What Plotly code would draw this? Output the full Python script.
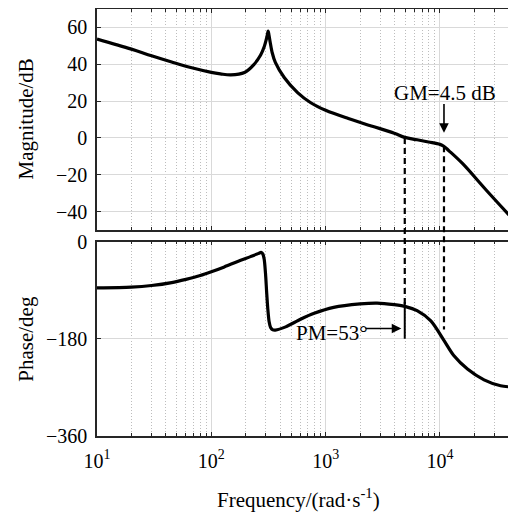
import numpy as np
import plotly.graph_objects as go

# ---- data ----
mag_freq = [10, 20, 30, 45, 66, 100, 120, 148, 195, 237, 270, 290, 302, 309, 314, 319, 326,
            340, 363, 434, 568, 741, 1000, 1580, 2510, 3980, 4920, 6310, 7940, 10000,
            10800, 12000, 15800, 25100, 47900]
mag_db = [53.7, 48.2, 44.6, 41.2, 38.2, 35.6, 34.8, 34.2, 35.5, 40.0, 45.0, 49.5, 53.3, 56.0,
          58.0, 56.0, 52.5, 46.5, 41.0, 32.8, 24.6, 19.1, 15.0, 10.5, 6.5, 2.6, 0.3, -1.0,
          -2.2, -3.5, -4.5, -7.0, -14.0, -28.0, -47.0]

ph_freq = [10, 20, 30, 45, 60, 80, 100, 130, 170, 220, 260, 272, 282, 290, 298, 305, 312,
           320, 330, 345, 363, 447, 603, 794, 1175, 2000, 2820, 3980, 5010, 6310, 8320,
           10900, 13200, 17400, 24300, 33900, 47900]
ph_deg = [-86, -84.5, -81.5, -76, -70, -63, -56, -47, -37, -28, -22, -20, -23, -33, -60, -95,
          -125, -148, -159, -163.5, -164, -158, -144, -133, -122, -115.5, -114, -117,
          -120.5, -128, -147, -184, -211, -236, -256, -267, -270]

mag_ticks = [-40, -20, 0, 20, 40, 60]
ph_ticks = [-360, -180, 0]
freq_ticks = [10, 100, 1000, 10000]
freq_ticktext = ["10<sup>1</sup>", "10<sup>2</sup>", "10<sup>3</sup>", "10<sup>4</sup>"]
gm_text = "GM=4.5 dB"
pm_text = "PM=53°"
w_gc = 4920     # gain crossover, rad/s
w_pc = 10840    # phase crossover, rad/s

# ---- layout geometry (page body adds an 8 px offset) ----
TOP_DOM = [0.4824, 1.0]
BOT_DOM = [0.0, 0.4555]
TOP_RNG = [-50, 70]
BOT_RNG = [-360, 0]
XR = [1, 4.665]
PL, PW = 97, 419      # plot-area left and width in window pixels
PB, PH = 436, 427     # plot-area bottom and height in window pixels


def to_paper(v, dom, rng):
    return dom[0] + (v - rng[0]) / (rng[1] - rng[0]) * (dom[1] - dom[0])


FONT = "Liberation Serif"
LINE = "#262626"

fig = go.Figure()
fig.add_trace(go.Scatter(x=mag_freq, y=mag_db, mode="lines", xaxis="x", yaxis="y",
                         line=dict(color="black", width=3.2, shape="spline", smoothing=1.0),
                         showlegend=False))
fig.add_trace(go.Scatter(x=ph_freq, y=ph_deg, mode="lines", xaxis="x2", yaxis="y2",
                         line=dict(color="black", width=3.2, shape="spline", smoothing=0.8),
                         showlegend=False))

axis_common = dict(
    type="log", range=XR, automargin=False,
    showline=True, linecolor=LINE, linewidth=1.6, mirror="ticks",
    ticks="inside", ticklen=4, tickcolor=LINE,
    showgrid=True, gridcolor="#d9d9d9", gridwidth=1,
    minor=dict(dtick="D1", ticks="inside", ticklen=3, tickcolor=LINE,
               showgrid=True, gridcolor="#bdbdbd", griddash="1px,2px", gridwidth=1),
    tickfont=dict(family=FONT, size=20, color="black"),
    zeroline=False,
)
yaxis_common = dict(
    automargin=False, showline=True, linecolor=LINE, linewidth=1.6, ticks="inside",
    ticklen=4, tickcolor=LINE, showgrid=True, gridcolor="#d9d9d9", zeroline=False,
    ticklabelstandoff=4, tickfont=dict(family=FONT, size=20, color="black"),
)

fig.update_layout(
    template="none",
    width=508, height=506,
    margin=dict(l=89, r=0, t=1, b=78),
    paper_bgcolor="white", plot_bgcolor="white",
    font=dict(family=FONT, size=20, color="black"),
    xaxis=dict(axis_common, anchor="y", matches="x2", tickvals=freq_ticks,
               showticklabels=False),
    xaxis2=dict(axis_common, anchor="y2", tickvals=freq_ticks, ticktext=freq_ticktext,
                ticklabelstandoff=6),
    yaxis=dict(yaxis_common, domain=TOP_DOM, range=TOP_RNG, tickvals=mag_ticks, anchor="x"),
    yaxis2=dict(yaxis_common, domain=BOT_DOM, range=BOT_RNG, tickvals=ph_ticks, anchor="x2"),
)

# dashed crossover lines spanning both panels
fig.add_shape(type="line", xref="x2", yref="paper", x0=w_gc, x1=w_gc,
              y0=to_paper(0, TOP_DOM, TOP_RNG), y1=to_paper(-118, BOT_DOM, BOT_RNG),
              line=dict(color="black", width=2.2, dash="6px,4px"))
fig.add_shape(type="line", xref="x2", yref="paper", x0=w_pc, x1=w_pc,
              y0=to_paper(-4.5, TOP_DOM, TOP_RNG), y1=to_paper(-163, BOT_DOM, BOT_RNG),
              line=dict(color="black", width=2.2, dash="6px,4px"))
# solid PM marker
fig.add_shape(type="line", xref="x2", yref="y2", x0=w_gc, x1=w_gc, y0=-112, y1=-180,
              line=dict(color="black", width=2))

# GM annotation
fig.add_annotation(x=np.log10(w_pc) + 0.012, y=24.4, xref="x", yref="y", text=gm_text,
                   showarrow=False, font=dict(family=FONT, size=21, color="black"))
fig.add_annotation(x=np.log10(w_pc), y=2.8, xref="x", yref="y", text="",
                   ax=np.log10(w_pc), ay=19.2, axref="x", ayref="y",
                   showarrow=True, arrowhead=2, arrowsize=1.2, arrowwidth=1.6,
                   arrowcolor="black")
# PM annotation
fig.add_annotation(x=3.054, y=-170, xref="x2", yref="y2", text=pm_text,
                   showarrow=False, font=dict(family=FONT, size=21, color="black"))
fig.add_annotation(x=np.log10(w_gc) - 0.03, y=-161, xref="x2", yref="y2", text="",
                   ax=3.335, ay=-161, axref="x2", ayref="y2",
                   showarrow=True, arrowhead=2, arrowsize=1.2, arrowwidth=1.6,
                   arrowcolor="black")

# axis titles
fig.add_annotation(x=(26 - PL) / PW, y=to_paper(10, TOP_DOM, TOP_RNG), xref="paper",
                   yref="paper", text="Magnitude/dB", textangle=-90, showarrow=False,
                   xanchor="center", yanchor="middle", font=dict(family=FONT, size=21))
fig.add_annotation(x=(26 - PL) / PW, y=to_paper(-180, BOT_DOM, BOT_RNG), xref="paper",
                   yref="paper", text="Phase/deg", textangle=-90, showarrow=False,
                   xanchor="center", yanchor="middle", font=dict(family=FONT, size=21))
fig.add_annotation(x=(298 - PL) / PW, y=(PB - 498) / PH, xref="paper", yref="paper",
                   text="Frequency/(rad·s<sup>-1</sup>)", showarrow=False,
                   xanchor="center", yanchor="middle", font=dict(family=FONT, size=21))

fig.write_html("out.html")
